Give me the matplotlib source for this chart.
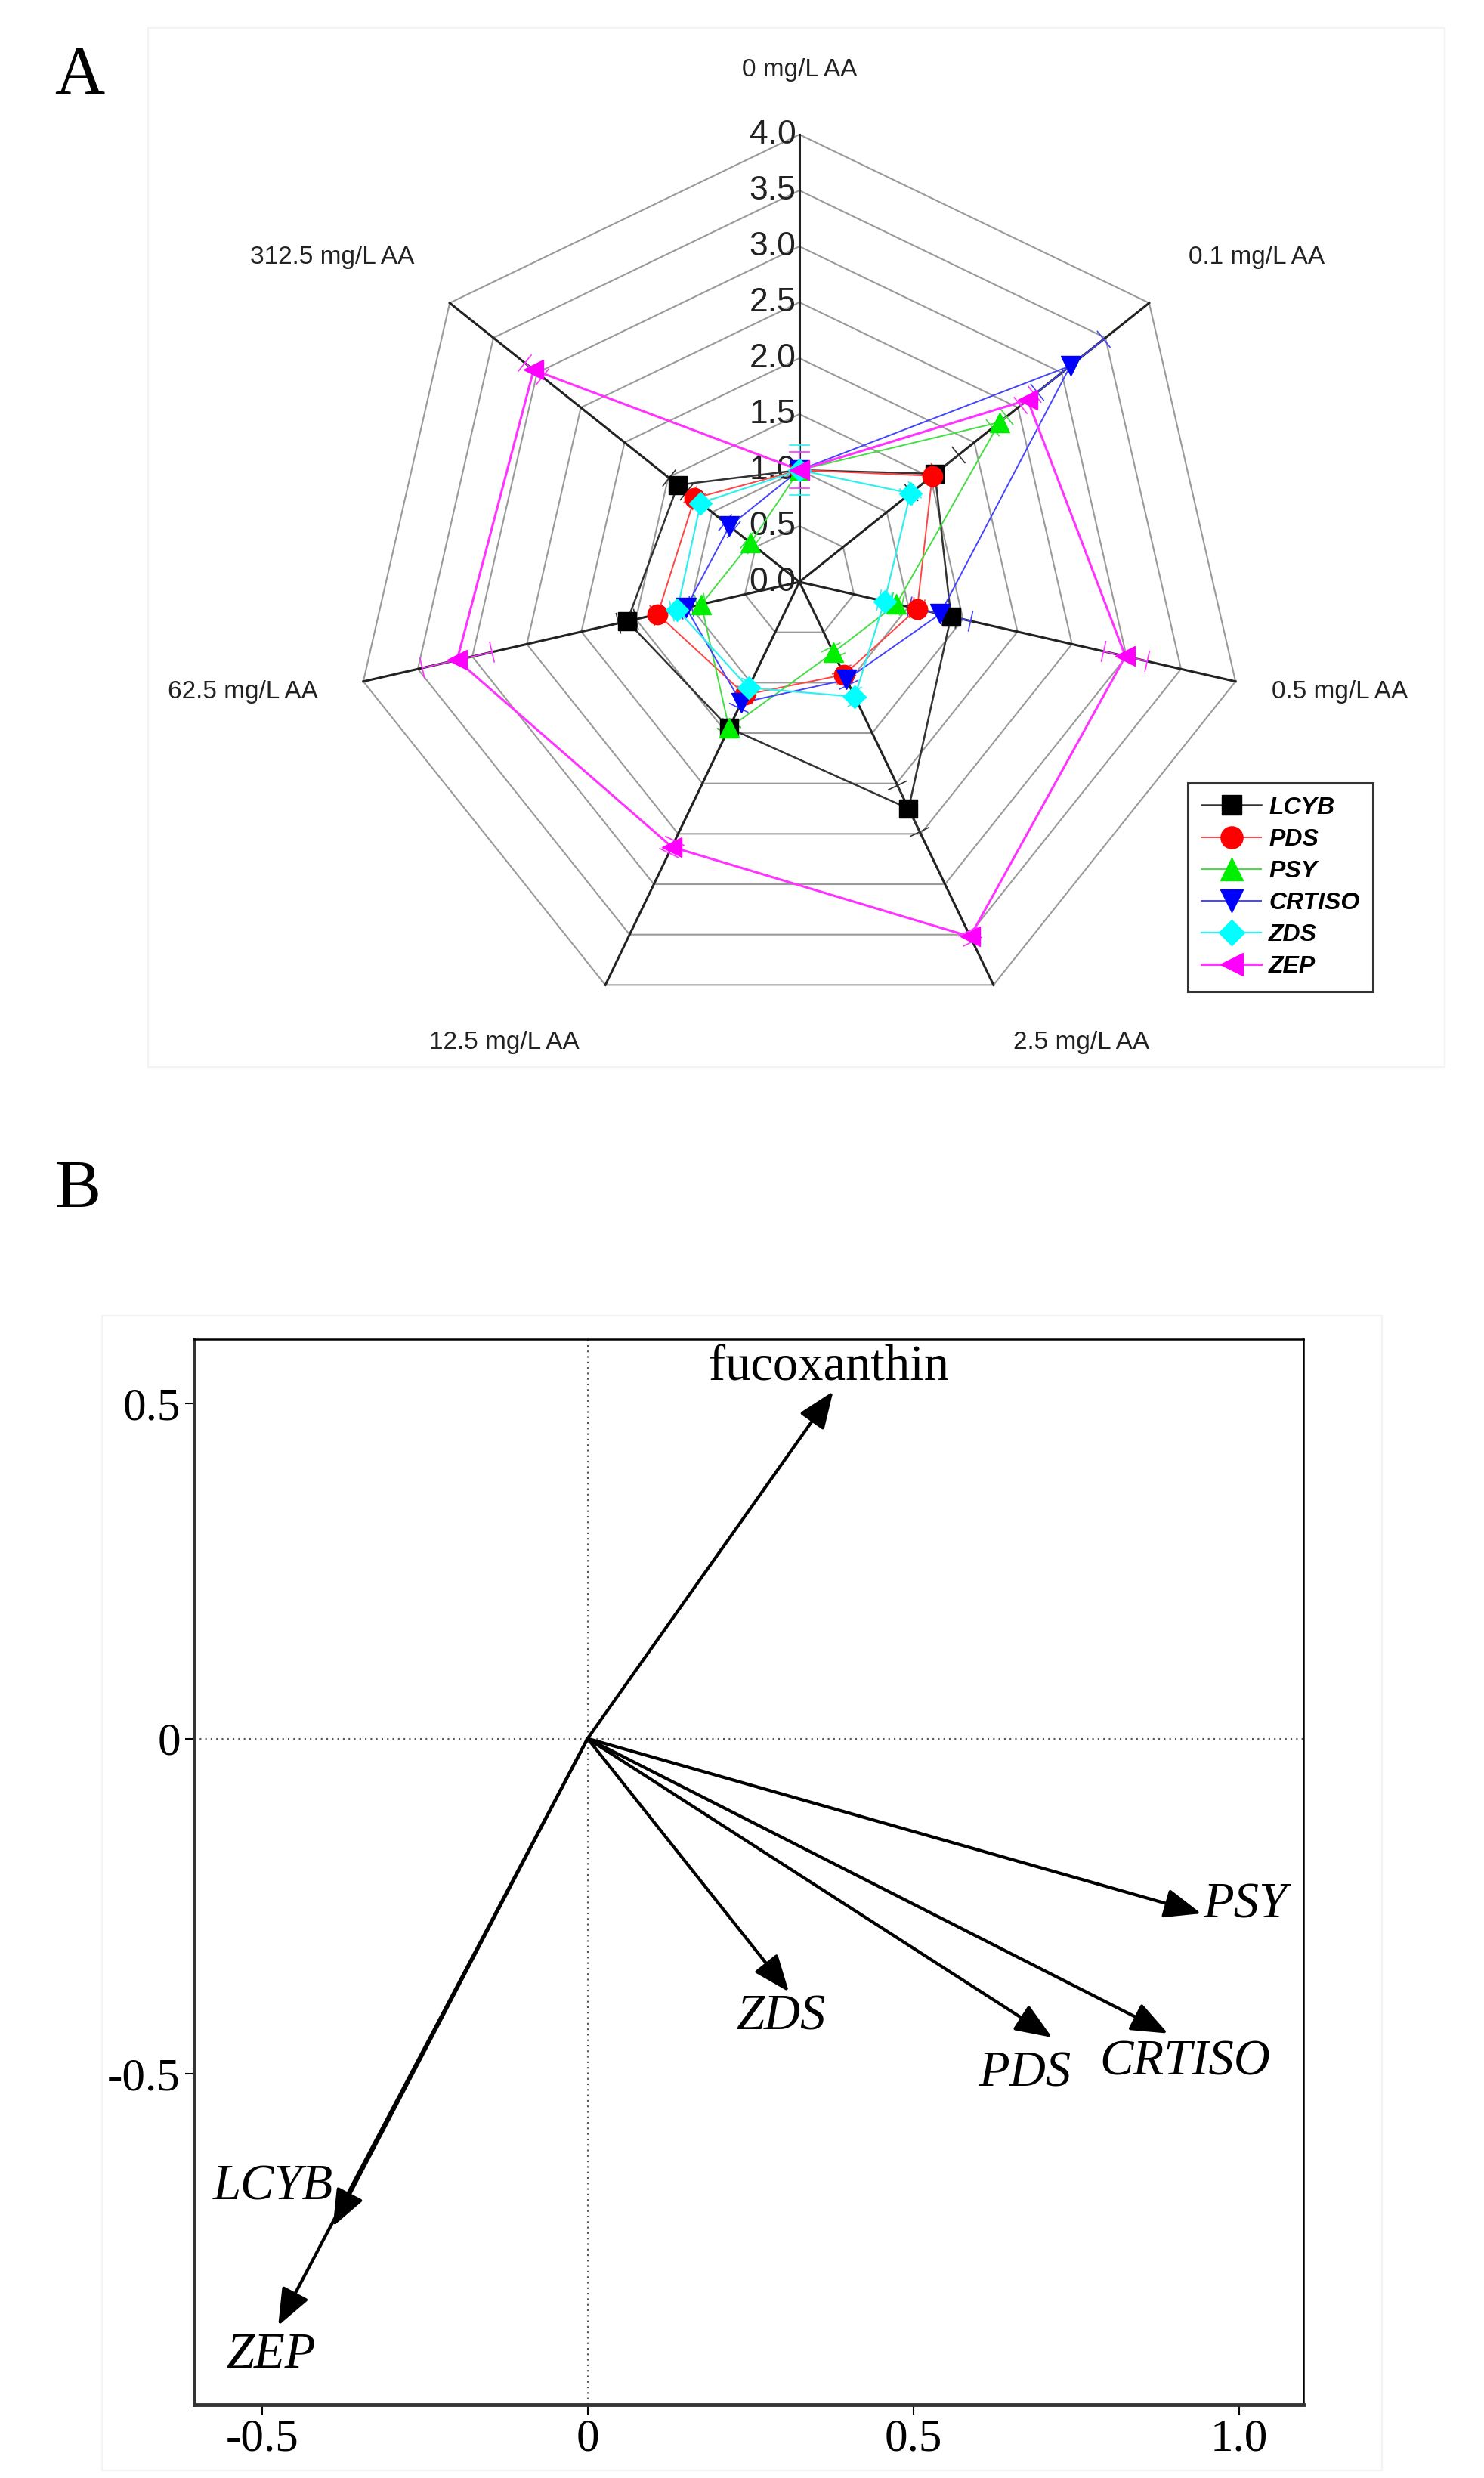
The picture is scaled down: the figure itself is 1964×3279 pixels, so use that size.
import numpy as np
import matplotlib
matplotlib.use("Agg")
from matplotlib import pyplot as plt
from matplotlib.patches import Rectangle

# panel A: relative expression, one spoke per ascorbic acid dose
doses = ['0 mg/L AA', '0.1 mg/L AA', '0.5 mg/L AA', '2.5 mg/L AA',
         '12.5 mg/L AA', '62.5 mg/L AA', '312.5 mg/L AA']
genes = ['LCYB', 'PDS', 'PSY', 'CRTISO', 'ZDS', 'ZEP']

lcyb = [1.0, 1.55, 1.39, 2.25, 1.45, 1.58, 1.39]
pds = [1.0, 1.52, 1.08, 0.92, 1.12, 1.30, 1.20]
psy = [1.0, 2.29, 0.89, 0.70, 1.45, 0.90, 0.56]
crtiso = [1.0, 3.10, 1.29, 0.97, 1.20, 1.04, 0.80]
zds = [1.0, 1.27, 0.78, 1.14, 1.05, 1.12, 1.13]
zep = [1.0, 2.61, 2.99, 3.52, 2.63, 3.14, 3.04]

lcyb_err = [0.05, 0.27, 0.06, 0.23, 0.05, 0.08, 0.10]
pds_err = [0.05, 0.06, 0.05, 0.05, 0.04, 0.05, 0.05]
psy_err = [0.05, 0.08, 0.05, 0.05, 0.05, 0.04, 0.04]
crtiso_err = [0.05, 0.38, 0.28, 0.05, 0.05, 0.05, 0.05]
zds_err = [0.22, 0.05, 0.05, 0.05, 0.05, 0.05, 0.05]
zep_err = [0.16, 0.08, 0.20, 0.05, 0.06, 0.32, 0.10]

r_ticks = [0.0, 0.5, 1.0, 1.5, 2.0, 2.5, 3.0, 3.5, 4.0]

# panel B: loadings (arrow tips)
vars_b = ['fucoxanthin', 'PSY', 'CRTISO', 'PDS', 'ZDS', 'LCYB', 'ZEP']
load_x = [0.377, 0.942, 0.891, 0.713, 0.309, -0.391, -0.475]
load_y = [0.518, -0.261, -0.440, -0.446, -0.378, -0.728, -0.876]
xticks_b = [-0.5, 0, 0.5, 1.0]
xtick_labels_b = ['-0.5', '0', '0.5', '1.0']
yticks_b = [-0.5, 0, 0.5]
ytick_labels_b = ['-0.5', '0', '0.5']

W, H = 1964, 3279
fig = plt.figure(figsize=(W / 100, H / 100), dpi=100)

# ---------------- panel A ----------------
cx, cy, unit = 1058, 770, 148.0
topA = 1420
axA = fig.add_axes([0, 1 - topA / H, 1, topA / H])
axA.set_xlim(-cx / unit, (W - cx) / unit)
axA.set_ylim(-(topA - cy) / unit, cy / unit)
axA.axis('off')

n = len(doses)
theta = 2 * np.pi * np.arange(n) / n
sx, sy = np.sin(theta), np.cos(theta)

def xy(vals):
    v = np.asarray(vals)
    return v * sx, v * sy

# rings
for r in r_ticks[1:]:
    axA.plot(np.append(r * sx, r * sx[0]), np.append(r * sy, r * sy[0]),
             color='#9a9a9a', lw=1.5, zorder=1)
# spokes
rmax = r_ticks[-1]
for k in range(n):
    axA.plot([0, rmax * sx[k]], [0, rmax * sy[k]], color='#222222', lw=2.2, zorder=2)

for r in r_ticks:
    axA.text(-0.03, r, '%.1f' % r, ha='right', va='center', fontsize=32,
             family='Liberation Sans', color='#222222', zorder=3)

label_xy = [(0, 4.58), (4.09, 2.90), (4.83, -0.98), (2.52, -4.12),
            (-2.64, -4.12), (-4.98, -0.98), (-4.18, 2.90)]
for lab, (lx, ly) in zip(doses, label_xy):
    axA.text(lx, ly, lab, ha='center', va='center', fontsize=24,
             family='Liberation Sans', color='#222222')

series = [
    (lcyb, lcyb_err, 's', '#000000', '#333333', 1.8, 17),
    (pds, pds_err, 'o', '#ff0000', '#ff4444', 1.4, 19),
    (psy, psy_err, '^', '#00ee00', '#44dd44', 1.4, 19),
    (crtiso, crtiso_err, 'v', '#0000ff', '#4444ff', 1.4, 19),
    (zds, zds_err, 'D', '#00ffff', '#33eeee', 1.6, 15),
    (zep, zep_err, '<', '#ff00ff', '#ff33ff', 2.2, 19),
]

handles = []
for name, (vals, errs, mk, mc, lc, lw, ms) in zip(genes, series):
    x, y = xy(vals)
    # error bars along the spoke, with short caps across it
    for k in range(n):
        lo, hi = vals[k] - errs[k], vals[k] + errs[k]
        axA.plot([lo * sx[k], hi * sx[k]], [lo * sy[k], hi * sy[k]], color=lc, lw=1.2, zorder=4)
        for e in (lo, hi):
            px, py = e * sx[k], e * sy[k]
            axA.plot([px - 0.09 * sy[k], px + 0.09 * sy[k]], [py + 0.09 * sx[k], py - 0.09 * sx[k]],
                     color=lc, lw=1.2, zorder=4)
    axA.plot(np.append(x, x[0]), np.append(y, y[0]), color=lc, lw=lw, zorder=5)
    axA.plot(x, y, ls='none', marker=mk, ms=ms, mfc=mc, mec=mc, zorder=6)
    hl, = axA.plot([], [], color=lc, lw=lw, marker=mk, ms=ms + 2, mfc=mc, mec=mc, label=name)
    handles.append(hl)

leg = fig.legend(handles=handles, loc='upper left', bbox_to_anchor=(1572 / W, 1 - 1036 / H),
                 bbox_transform=fig.transFigure, borderaxespad=0, numpoints=1,
                 fancybox=False, framealpha=1, edgecolor='#333333', handlelength=2.5,
                 handletextpad=0.3, labelspacing=0.38, borderpad=0.55,
                 prop={'family': 'Liberation Sans', 'weight': 'bold', 'style': 'italic', 'size': 23})
leg.get_frame().set_linewidth(2.2)

# faint panel frames
fig.patches.append(Rectangle((196 / W, 1 - 1412 / H), (1912 - 196) / W, (1412 - 37) / H,
                             transform=fig.transFigure, fill=False, ec='#f3f3f3', lw=1.5))
fig.patches.append(Rectangle((135 / W, 1 - 3269 / H), (1829 - 135) / W, (3269 - 1741) / H,
                             transform=fig.transFigure, fill=False, ec='#f3f3f3', lw=1.5))

fig.text(72 / W, 1 - 124 / H, 'A', fontsize=66, family='Liberation Serif', va='baseline')
fig.text(72 / W, 1 - 1598 / H, 'B', fontsize=66, family='Liberation Serif', va='baseline')

# ---------------- panel B ----------------
left, right, top, bottom = 257, 1725, 1772, 3182
axB = fig.add_axes([left / W, 1 - bottom / H, (right - left) / W, (bottom - top) / H])
axB.set_xlim(-0.604, 1.099)
axB.set_ylim(-0.994, 0.596)
axB.axhline(0, color='#555555', ls=(0, (1, 2.5)), lw=1.5)
axB.axvline(0, color='#555555', ls=(0, (1, 2.5)), lw=1.5)

for name, x1, y1 in zip(vars_b, load_x, load_y):
    axB.annotate('', xy=(x1, y1), xytext=(0, 0),
                 arrowprops=dict(arrowstyle='-|>,head_length=0.4,head_width=0.16',
                                 color='black', lw=3.0, mutation_scale=75,
                                 shrinkA=0, shrinkB=0))

text_xy = {'fucoxanthin': (0.37, 0.554), 'PSY': (1.01, -0.249), 'CRTISO': (0.917, -0.483),
           'PDS': (0.671, -0.50), 'ZDS': (0.297, -0.415), 'LCYB': (-0.483, -0.669),
           'ZEP': (-0.486, -0.92)}
for name in vars_b:
    tx, ty = text_xy[name]
    axB.text(tx, ty, name, ha='center', va='center', fontsize=48,
             family='Liberation Serif', style='normal' if name == 'fucoxanthin' else 'italic')

axB.set_xticks(xticks_b)
axB.set_xticklabels(xtick_labels_b)
axB.set_yticks(yticks_b)
axB.set_yticklabels(ytick_labels_b)
axB.tick_params(direction='out', length=9, width=1.5, labelsize=44, pad=4)
for lab in axB.get_xticklabels() + axB.get_yticklabels():
    lab.set_family('Liberation Serif')
for side in ['top', 'right']:
    axB.spines[side].set_linewidth(1.8)
for side in ['left', 'bottom']:
    axB.spines[side].set_linewidth(3.5)
    axB.spines[side].set_color('#333333')

fig.savefig('out.png', dpi=100, facecolor='white')
